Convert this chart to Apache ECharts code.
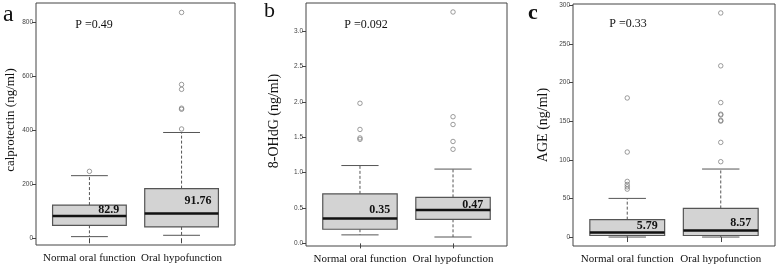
<!DOCTYPE html>
<html>
<head>
<meta charset="utf-8">
<script src="https://cdn.jsdelivr.net/npm/echarts@6/dist/echarts.min.js"></script>
<style>
html, body { margin: 0; padding: 0; background: #fff; }
#chart { width: 777px; height: 268px; }
</style>
</head>
<body>
<div id="chart"></div>
<script>
var groups = ['Normal oral function', 'Oral hypofunction'];

// box rows: [low whisker, Q1, median, Q3, high whisker]
var calBox = [[6, 48, 82.9, 123, 232], [11, 42, 91.76, 184, 392]];
var calOut = [[248], [405, 478, 482, 552, 570, 837]];
var calMedLabel = ['82.9', '91.76'];

var ohdgBox = [[0.12, 0.2, 0.35, 0.7, 1.1], [0.09, 0.34, 0.47, 0.65, 1.05]];
var ohdgOut = [[1.47, 1.49, 1.61, 1.98], [1.33, 1.44, 1.68, 1.79, 3.27]];
var ohdgMedLabel = ['0.35', '0.47'];

var ageBox = [[0, 2, 5.79, 22.5, 50], [0, 2, 8.57, 37, 88]];
var ageOut = [[62, 65, 68, 72, 110, 180], [97.5, 122.5, 150, 151, 158, 159, 174, 221.6, 290]];
var ageMedLabel = ['5.79', '8.57'];

var pValues = ['P =0.49', 'P =0.092', 'P =0.33'];
var yNames = ['calprotectin (ng/ml)', '8-OHdG (ng/ml)', 'AGE (ng/ml)'];
var calTicks = [0, 200, 400, 600, 800];
var ohdgTicks = [0, 0.5, 1, 1.5, 2, 2.5, 3];
var ageTicks = [0, 50, 100, 150, 200, 250, 300];

var serif = '"Liberation Serif", "DejaVu Serif", serif';

var panels = [
  { box: calBox, out: calOut, lab: calMedLabel, ticks: calTicks, min: -25, max: 872, dec: 0, labOff: [5, 12],
    grid: { left: 36, top: 3, width: 199, height: 242 } },
  { box: ohdgBox, out: ohdgOut, lab: ohdgMedLabel, ticks: ohdgTicks, min: -0.037, max: 3.397, dec: 1, labOff: [16, 8],
    grid: { left: 306, top: 3, width: 201, height: 243 } },
  { box: ageBox, out: ageOut, lab: ageMedLabel, ticks: ageTicks, min: -11.6, max: 301.6, dec: 0, labOff: [6, 14],
    grid: { left: 573, top: 4, width: 202, height: 242 } }
];

var chart = echarts.init(document.getElementById('chart'));

var grids = [], xAxes = [], yAxes = [], series = [];

panels.forEach(function (p, i) {
  grids.push(Object.assign({ show: true, borderColor: '#444', borderWidth: 1, backgroundColor: 'transparent' }, p.grid));
  xAxes.push({
    gridIndex: i, type: 'value', min: 0.42, max: 2.58,
    axisLine: { show: false }, splitLine: { show: false },
    axisTick: { show: true, customValues: [1, 2], length: 5, lineStyle: { color: '#444' } },
    axisLabel: {
      customValues: [1, 2], margin: 8, color: '#111', fontFamily: serif, fontSize: 11,
      formatter: function (v) { return groups[Math.round(v) - 1]; }
    }
  });
  yAxes.push({
    gridIndex: i, type: 'value', min: p.min, max: p.max,
    axisLine: { show: false }, splitLine: { show: false },
    axisTick: { show: true, customValues: p.ticks, length: 4, lineStyle: { color: '#444' } },
    axisLabel: {
      customValues: p.ticks, margin: 3, color: '#444', fontSize: 6.5, fontFamily: 'Arial, "Liberation Sans", sans-serif',
      formatter: function (v) { return v.toFixed(p.dec); }
    }
  });

  var boxData = p.box.map(function (b, k) { return [k + 1].concat(b); });
  series.push({
    type: 'custom', xAxisIndex: i, yAxisIndex: i, data: boxData, silent: true,
    renderItem: function (params, api) {
      var x = api.value(0);
      var lo = api.coord([x, api.value(1)]);
      var q1 = api.coord([x, api.value(2)]);
      var md = api.coord([x, api.value(3)]);
      var q3 = api.coord([x, api.value(4)]);
      var hi = api.coord([x, api.value(5)]);
      var w = api.size([0.8, 0])[0];
      var cw = api.size([0.4, 0])[0];
      var cx = lo[0];
      var k = params.dataIndex;
      var stroke = '#555';
      return {
        type: 'group',
        children: [
          { type: 'line', shape: { x1: cx, y1: q3[1], x2: cx, y2: hi[1] }, style: { stroke: stroke, lineWidth: 1, lineDash: [3, 2] } },
          { type: 'line', shape: { x1: cx, y1: q1[1], x2: cx, y2: lo[1] }, style: { stroke: stroke, lineWidth: 1, lineDash: [3, 2] } },
          { type: 'line', shape: { x1: cx - cw / 2, y1: hi[1], x2: cx + cw / 2, y2: hi[1] }, style: { stroke: stroke, lineWidth: 1 } },
          { type: 'line', shape: { x1: cx - cw / 2, y1: lo[1], x2: cx + cw / 2, y2: lo[1] }, style: { stroke: stroke, lineWidth: 1 } },
          { type: 'rect', shape: { x: cx - w / 2, y: q3[1], width: w, height: q1[1] - q3[1] }, style: { fill: '#d3d3d3', stroke: stroke, lineWidth: 1.2 } },
          { type: 'line', shape: { x1: cx - w / 2, y1: md[1], x2: cx + w / 2, y2: md[1] }, style: { stroke: '#111', lineWidth: 2.5 } },
          { type: 'text', style: { text: p.lab[k], x: cx + w / 2 - 7, y: q3[1] + p.labOff[k], align: 'right', verticalAlign: 'middle',
              font: 'bold 12px ' + serif, fill: '#111' } }
        ]
      };
    }
  });

  var outData = [];
  p.out.forEach(function (arr, k) { arr.forEach(function (v) { outData.push([k + 1, v]); }); });
  series.push({
    type: 'scatter', xAxisIndex: i, yAxisIndex: i, data: outData, silent: true,
    symbol: 'circle', symbolSize: 4.5,
    itemStyle: { color: 'rgba(255,255,255,0)', borderColor: '#777', borderWidth: 0.9 }
  });
});

var graphics = [
  { type: 'text', left: 3, top: 3, style: { text: 'a', font: '24px ' + serif, fill: '#111' } },
  { type: 'text', left: 264, top: 0, style: { text: 'b', font: '22px ' + serif, fill: '#111' } },
  { type: 'text', left: 528, top: 2, style: { text: 'c', font: 'bold 22px ' + serif, fill: '#111' } },
  { type: 'text', x: 94, y: 25, style: { text: pValues[0], font: '12px ' + serif, fill: '#111', align: 'center', verticalAlign: 'middle' } },
  { type: 'text', x: 366, y: 25, style: { text: pValues[1], font: '12px ' + serif, fill: '#111', align: 'center', verticalAlign: 'middle' } },
  { type: 'text', x: 628, y: 24, style: { text: pValues[2], font: '12px ' + serif, fill: '#111', align: 'center', verticalAlign: 'middle' } },
  { type: 'text', x: 11, y: 120, rotation: Math.PI / 2, style: { text: yNames[0], font: '13px ' + serif, fill: '#111', align: 'center', verticalAlign: 'middle' } },
  { type: 'text', x: 274, y: 121, rotation: Math.PI / 2, style: { text: yNames[1], font: '14px ' + serif, fill: '#111', align: 'center', verticalAlign: 'middle' } },
  { type: 'text', x: 543, y: 125, rotation: Math.PI / 2, style: { text: yNames[2], font: '14px ' + serif, fill: '#111', align: 'center', verticalAlign: 'middle' } }
];

chart.setOption({
  animation: false,
  backgroundColor: '#fff',
  grid: grids,
  xAxis: xAxes,
  yAxis: yAxes,
  series: series,
  graphic: graphics
});
</script>
</body>
</html>
